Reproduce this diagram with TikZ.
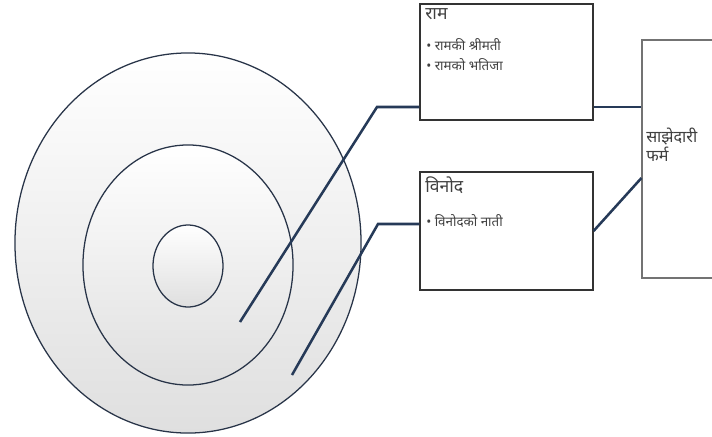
\documentclass[tikz,border=0pt]{standalone}
\usepackage{fontspec}
\newfontfamily\devfont[Script=Devanagari]{Noto Sans}
\usetikzlibrary{positioning,shapes.geometric,calc}
\definecolor{linkblue}{RGB}{38,58,88}
\definecolor{ringline}{RGB}{40,52,72}

\begin{document}
\begin{tikzpicture}[x=0.025cm,y=-0.025cm,
    ring/.style={ellipse, draw=ringline, line width=0.9pt, top color=white, bottom color=gray!25, inner sep=0pt},
    box/.style={draw=black!80, line width=0.8pt, fill=white, inner sep=0pt},
    link/.style={draw=linkblue, line width=1.8pt},
    head/.style={font=\devfont\fontsize{12.5}{14}\selectfont, text=black!75, inner sep=0pt, anchor=north west},
    item/.style={font=\devfont\fontsize{9.5}{11}\selectfont, text=black!75, inner sep=0pt, anchor=north west}]
    \useasboundingbox (0,0) rectangle (712,436);
    \clip (0,0) rectangle (712,436);
    % --- Rings ---
    \node[ring, minimum width=8.65cm, minimum height=9.5cm] (outer) at (188,243) {};
    \node[ring, minimum width=5.25cm, minimum height=6cm] (middle) at (188,265) {};
    \node[ring, minimum width=1.75cm, minimum height=2.05cm] (inner) at (188,266) {};
    % --- Boxes ---
    \node[box, minimum width=4.325cm, minimum height=2.9cm] (ram) at (506.5,62) {};
    \node[box, minimum width=4.325cm, minimum height=2.95cm] (vinod) at (506.5,231) {};
    \node[box, draw=black!55, minimum width=2.95cm, minimum height=5.95cm] (firm) at (701,159) {};
    % Texts
    \node[head] (ramhead) at (425,8) {राम};
    \node[item] (ramitem1) at (426,38) {• रामकी श्रीमती};
    \node[item, below=5pt of ramitem1.south west, anchor=north west] (ramitem2) {• रामको भतिजा};
    \node[head] (vinodhead) at (425,176) {विनोद};
    \node[item] (vinoditem) at (426,214) {• विनोदको नाती};
    \node[item, font=\devfont\fontsize{11.5}{13.5}\selectfont, align=left] (firmtext) at (646,128) {साझेदारी\\फर्म};
    % --- Links ---
    \coordinate (ramend) at (240,322);
    \coordinate (rambend) at (377,107);
    \coordinate (vinodend) at (292,375);
    \coordinate (vinodbend) at (378,224);
    \draw[link] (ramend) -- (rambend) -- (rambend -| ram.west);
    \draw[link] (rambend -| ram.east) -- (rambend -| firm.west);
    \draw[link] (vinodend) -- (vinodbend) -- (vinodbend -| vinod.west);
    \draw[link] (vinod.east) -- ($(firm.west)+(0,19)$);
\end{tikzpicture}
\end{document}
